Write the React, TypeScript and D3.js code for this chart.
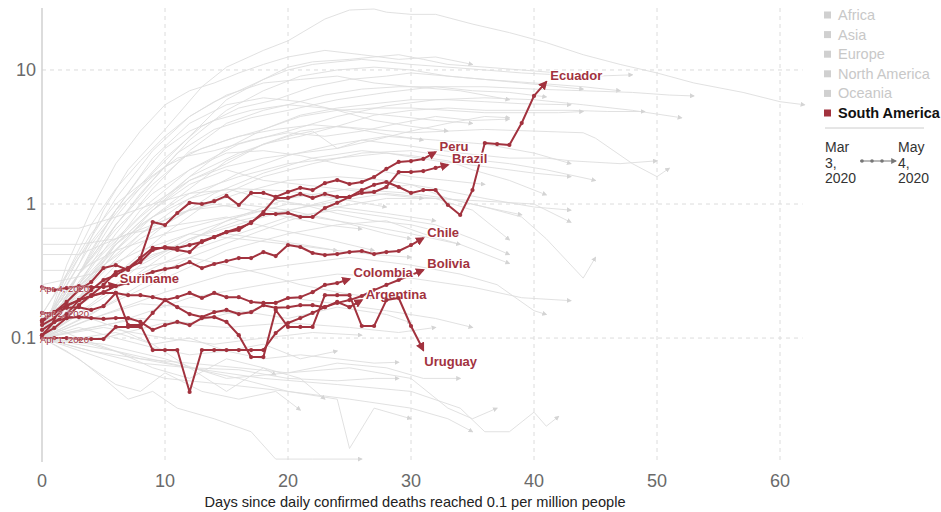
import React from "react";
import * as d3 from "d3";

const WIDTH = 941;
const HEIGHT = 512;
const RED = "#a2323e";
const FONT = "'Liberation Sans', Arial, Helvetica, sans-serif";

// South America: daily deaths per million, one value per day since reaching 0.1
const ecuador = [0.115, 0.132, 0.151, 0.192, 0.228, 0.271, 0.295, 0.333, 0.369, 0.454, 0.478, 0.47, 0.494, 0.52, 0.567, 0.618, 0.64, 0.734, 0.842, 0.842, 0.857, 0.8, 0.8, 0.934, 1.02, 1.13, 1.27, 1.39, 1.46, 1.34, 1.21, 1.27, 1.27, 0.983, 0.828, 1.27, 2.85, 2.8, 2.76, 4.02, 6.4, 8.14];
const peru = [0.132, 0.156, 0.186, 0.228, 0.262, 0.333, 0.35, 0.322, 0.395, 0.734, 0.697, 0.857, 1.02, 1.0, 1.05, 1.15, 0.983, 1.21, 1.21, 1.13, 1.23, 1.32, 1.27, 1.43, 1.51, 1.41, 1.46, 1.59, 1.83, 2.06, 2.09, 2.17, 2.44];
const brazil = [0.105, 0.119, 0.141, 0.176, 0.209, 0.249, 0.311, 0.333, 0.395, 0.47, 0.47, 0.454, 0.438, 0.53, 0.567, 0.618, 0.662, 0.721, 0.872, 1.11, 1.11, 1.19, 1.11, 1.19, 1.13, 1.13, 1.21, 1.23, 1.34, 1.73, 1.73, 1.76, 1.86, 1.96];
const chile = [0.125, 0.141, 0.173, 0.192, 0.206, 0.22, 0.244, 0.257, 0.29, 0.311, 0.327, 0.339, 0.369, 0.333, 0.357, 0.375, 0.395, 0.395, 0.438, 0.409, 0.494, 0.478, 0.431, 0.416, 0.423, 0.438, 0.446, 0.423, 0.438, 0.446, 0.494, 0.557];
const bolivia = [0.136, 0.156, 0.176, 0.192, 0.206, 0.217, 0.217, 0.125, 0.125, 0.0814, 0.0814, 0.0814, 0.0396, 0.0814, 0.0814, 0.0814, 0.0814, 0.0814, 0.0814, 0.109, 0.1295, 0.141, 0.154, 0.17, 0.183, 0.192, 0.206, 0.228, 0.249, 0.271, 0.295, 0.322];
const colombia = [0.154, 0.154, 0.168, 0.17, 0.162, 0.173, 0.217, 0.209, 0.209, 0.202, 0.192, 0.202, 0.217, 0.199, 0.217, 0.202, 0.202, 0.186, 0.183, 0.183, 0.199, 0.202, 0.22, 0.249, 0.257, 0.276];
const argentina = [0.1, 0.1, 0.1, 0.0983, 0.0983, 0.0983, 0.121, 0.121, 0.121, 0.154, 0.192, 0.17, 0.151, 0.1435, 0.156, 0.162, 0.151, 0.156, 0.176, 0.168, 0.17, 0.176, 0.176, 0.17, 0.186, 0.17, 0.192];
const uruguay = [0.105, 0.132, 0.141, 0.1435, 0.141, 0.139, 0.141, 0.141, 0.132, 0.115, 0.125, 0.132, 0.125, 0.141, 0.1435, 0.132, 0.105, 0.0721, 0.0721, 0.162, 0.121, 0.121, 0.121, 0.209, 0.209, 0.209, 0.123, 0.123, 0.192, 0.199, 0.123, 0.0814];
const suriname = [0.24, 0.228, 0.236, 0.244, 0.24, 0.24, 0.249];

const saNames = ["Ecuador", "Peru", "Brazil", "Chile", "Bolivia", "Colombia", "Argentina", "Uruguay", "Suriname"];
const saValues = [ecuador, peru, brazil, chile, bolivia, colombia, argentina, uruguay, suriname];
const startDates: Record<string, string> = {
  Suriname: "Apr 4, 2020",
  Colombia: "Apr 2, 2020",
  Argentina: "Apr 1, 2020",
};

// other continents, [day, value] points
const otherCountries: [number, number][][] = [
  [[0, 0.12], [3, 0.35], [5, 0.9], [7, 1.8], [10, 3.6], [13, 7.5], [15, 10.5], [18, 14], [20, 16.5], [23, 24], [25, 28], [27, 28.5], [28, 27], [30, 26], [32, 26], [35, 22], [38, 19], [41, 16], [44, 13], [47, 11], [50, 9.5], [53, 8], [57, 6.8], [60, 5.8], [62, 5.5]],
  [[0, 0.1], [3, 0.3], [6, 0.8], [9, 1.7], [12, 3.2], [15, 6], [18, 8.5], [20, 10.5], [22, 11.5], [25, 12], [27, 12.5], [29, 13], [31, 12], [33, 11], [36, 10.5], [39, 10], [42, 9.5], [45, 9], [48, 9.2]],
  [[0, 0.11], [2, 0.25], [4, 0.5], [7, 1.1], [10, 2.2], [13, 3.8], [16, 5.2], [19, 6], [22, 7.5], [25, 8.5], [28, 9], [30, 9.5], [33, 9], [36, 8.5], [40, 8], [44, 7.5], [47, 7]],
  [[0, 0.1], [3, 0.25], [6, 0.6], [9, 1.3], [12, 2.5], [15, 4], [18, 5], [20, 5.5], [23, 6.5], [26, 7.2], [29, 7.5], [32, 7.5], [35, 7], [38, 6.8], [41, 6.3]],
  [[0, 0.13], [4, 0.4], [8, 1.2], [11, 2.4], [14, 3.6], [17, 4.4], [20, 5], [24, 6], [28, 6.8], [32, 7.5], [36, 7.5], [40, 7.2], [44, 7], [48, 6.8], [51, 6.5], [53, 6.4]],
  [[0, 0.12], [3, 0.3], [6, 0.7], [9, 1.4], [12, 2.4], [15, 3], [18, 3.6], [21, 4.6], [24, 5.2], [27, 5.6], [30, 6], [33, 6], [36, 5.8], [39, 5.6], [43, 5.5]],
  [[0, 0.1], [4, 0.3], [8, 0.9], [12, 1.8], [16, 2.8], [20, 3.5], [24, 4.5], [28, 5.4], [32, 6], [36, 6.2], [40, 6], [44, 5.5], [48, 5], [52, 4.4]],
  [[0, 0.1], [3, 0.2], [6, 0.5], [9, 0.9], [12, 1.5], [15, 2], [18, 2.8], [21, 3.2], [24, 3.8], [27, 4.6], [30, 5], [33, 5.2], [36, 5], [39, 5], [43, 5], [46, 4.9], [49, 4.9]],
  [[0, 0.15], [3, 0.4], [6, 0.9], [9, 1.6], [11, 2.2], [14, 2.5], [17, 3], [20, 3.4], [23, 3.2], [26, 3.5], [29, 4], [32, 4.5], [35, 4.2], [38, 4.3]],
  [[0, 0.1], [3, 0.2], [6, 0.45], [9, 0.8], [12, 1.3], [15, 2.1], [18, 2.8], [21, 3.5], [24, 3.8], [27, 3.6], [30, 3.4], [33, 3.5], [36, 3.6], [40, 3.5], [44, 3.4], [45, 3.1], [48, 2], [50, 1.6], [51, 1.85]],
  [[0, 0.1], [4, 0.25], [8, 0.6], [12, 1.1], [16, 1.7], [20, 2.3], [24, 2.8], [28, 3.2], [32, 3], [36, 2.8], [40, 2.4], [43, 2]],
  [[0, 0.12], [4, 0.3], [8, 0.7], [12, 1.2], [16, 1.6], [20, 2], [24, 2.2], [28, 2.4], [32, 2.1], [36, 1.9], [40, 1.7], [43, 1.6]],
  [[0, 0.1], [5, 0.25], [10, 0.6], [14, 1.1], [18, 1.6], [22, 2], [26, 2.4], [30, 2.5], [34, 2.2], [38, 2], [41, 1.8], [45, 1.5]],
  [[0, 0.11], [4, 0.35], [8, 0.8], [12, 1.6], [16, 2.4], [20, 3.2], [22, 3.5], [24, 2.6], [26, 3], [30, 2.7], [34, 2.4], [38, 2.2], [41, 2.2], [43, 2.1], [47, 2], [50, 2.1]],
  [[0, 0.1], [3, 0.18], [6, 0.35], [10, 0.7], [14, 1.2], [18, 1.7], [22, 2.2], [26, 2.5], [30, 2.3], [33, 2.1], [35, 1.8], [38, 1.5], [41, 1.17]],
  [[0, 0.13], [4, 0.3], [8, 0.55], [12, 0.9], [16, 1.2], [20, 1.5], [24, 1.6], [28, 1.5], [32, 1.3], [36, 1.1], [40, 0.95], [43, 0.9]],
  [[0, 0.1], [5, 0.2], [10, 0.42], [15, 0.75], [20, 1.1], [25, 1.3], [30, 1.2], [33, 1.1], [36, 0.95], [39, 0.83]],
  [[0, 0.1], [4, 0.18], [8, 0.35], [12, 0.55], [16, 0.75], [20, 0.9], [24, 1.05], [28, 1.2], [32, 1.1], [35, 0.9], [38, 0.54]],
  [[0, 0.12], [4, 0.2], [8, 0.3], [12, 0.45], [16, 0.6], [20, 0.8], [24, 0.9], [28, 0.8], [32, 0.7], [35, 0.55], [38, 0.42]],
  [[0, 0.1], [5, 0.17], [10, 0.28], [15, 0.45], [20, 0.6], [24, 0.7], [28, 0.75], [31, 0.6], [34, 0.5], [38, 0.36]],
  [[0, 0.1], [4, 0.15], [8, 0.25], [12, 0.4], [16, 0.55], [20, 0.75], [24, 0.95], [28, 1.1], [32, 1.1], [36, 1.05], [40, 1], [43, 0.73]],
  [[0, 0.14], [6, 0.3], [12, 0.55], [18, 0.8], [24, 1.1], [28, 1.3], [30, 1.4], [33, 1.1], [36, 0.95], [39, 0.8], [41, 0.55], [44, 0.28], [45, 0.4]],
  [[0, 0.1], [5, 0.15], [10, 0.22], [15, 0.3], [20, 0.35], [25, 0.4], [30, 0.35], [34, 0.3], [37, 0.25], [40, 0.16], [41, 0.15]],
  [[0, 0.1], [6, 0.13], [12, 0.2], [18, 0.25], [24, 0.3], [30, 0.28], [35, 0.24], [39, 0.2], [43, 0.19]],
  [[0, 0.1], [3, 0.1], [6, 0.08], [9, 0.06], [12, 0.05], [15, 0.07], [18, 0.06], [19, 0.053]],
  [[0, 0.1], [2, 0.08], [4, 0.06], [6, 0.045], [8, 0.04], [10, 0.055], [13, 0.04], [16, 0.035], [19, 0.04], [21, 0.029]],
  [[0, 0.1], [3, 0.07], [5, 0.05], [7, 0.035], [9, 0.04], [11, 0.03], [14, 0.025], [17, 0.02], [19, 0.0125], [22, 0.0125], [26, 0.0125]],
  [[0, 0.1], [4, 0.09], [8, 0.07], [12, 0.06], [16, 0.05], [20, 0.04], [24, 0.035], [25, 0.015], [27, 0.03], [30, 0.025]],
  [[0, 0.1], [3, 0.12], [6, 0.1], [9, 0.085], [12, 0.075], [15, 0.08], [18, 0.07], [21, 0.075], [24, 0.07], [27, 0.065], [29, 0.066]],
  [[0, 0.1], [4, 0.08], [8, 0.065], [12, 0.06], [16, 0.058], [20, 0.05], [24, 0.048], [27, 0.05], [29, 0.05]],
  [[0, 0.1], [5, 0.12], [10, 0.1], [14, 0.09], [18, 0.1], [22, 0.11], [26, 0.105]],
  [[0, 0.1], [5, 0.1], [10, 0.13], [15, 0.12], [20, 0.13], [25, 0.12], [29, 0.11], [32, 0.12]],
  [[0, 0.1], [4, 0.08], [8, 0.07], [12, 0.065], [16, 0.06], [20, 0.055], [24, 0.065], [28, 0.06], [31, 0.05], [34, 0.05]],
  [[0, 0.1], [5, 0.07], [10, 0.05], [15, 0.045], [20, 0.04], [25, 0.035], [30, 0.03], [33, 0.025], [35, 0.02]],
  [[0, 0.1], [5, 0.09], [10, 0.07], [15, 0.05], [20, 0.055], [25, 0.06], [30, 0.05], [33, 0.03], [35, 0.025], [37, 0.03]],
  [[0, 0.1], [6, 0.08], [12, 0.06], [18, 0.05], [24, 0.045], [30, 0.04], [34, 0.03], [36, 0.02], [38, 0.02], [40, 0.028], [41, 0.022], [42, 0.026]],
  [[0, 0.1], [3, 0.15], [6, 0.12], [9, 0.09], [12, 0.1], [15, 0.08], [18, 0.09], [21, 0.07], [24, 0.08]],
  [[0, 0.13], [3, 0.1], [6, 0.11], [9, 0.09], [12, 0.06], [15, 0.04], [18, 0.06], [21, 0.05], [23, 0.035]],
  [[0, 0.1], [4, 0.14], [8, 0.18], [12, 0.17], [16, 0.15], [20, 0.2], [24, 0.18], [28, 0.16], [32, 0.14], [35, 0.12]],
  [[0, 0.1], [4, 0.12], [8, 0.14], [12, 0.13], [16, 0.16], [20, 0.14], [24, 0.17], [28, 0.15], [30, 0.13]],
  [[0, 0.66], [3, 0.66], [6, 0.8], [9, 1], [12, 1.2], [16, 1.3], [20, 1.25], [24, 1.1], [28, 0.95]],
  [[0, 0.5], [3, 0.5], [6, 0.55], [9, 0.7], [12, 0.9], [16, 1], [20, 0.9], [24, 0.75], [28, 0.6], [30, 0.55]],
  [[0, 0.42], [3, 0.42], [7, 0.6], [11, 0.7], [15, 0.8], [19, 0.65], [23, 0.55], [27, 0.45]],
  [[0, 0.32], [3, 0.32], [6, 0.45], [10, 0.6], [14, 0.75], [18, 0.9], [22, 0.8], [26, 0.7], [30, 0.6], [34, 0.5]],
  [[0, 0.25], [4, 0.3], [8, 0.45], [12, 0.6], [16, 0.55], [20, 0.5], [24, 0.45]],
  [[0, 0.1], [2, 0.2], [4, 0.45], [6, 0.9], [8, 1.6], [10, 2.6], [12, 3.5], [14, 4.2], [17, 5], [20, 5.5], [23, 5.2], [26, 4.8], [29, 4.5], [32, 4.2], [35, 4]],
  [[0, 0.12], [3, 0.3], [6, 0.65], [9, 1.2], [12, 1.8], [15, 2.4], [18, 2.5], [21, 2.3], [24, 2], [27, 1.8], [30, 1.6], [33, 1.5], [36, 1.4]],
  [[0, 0.1], [3, 0.22], [6, 0.5], [9, 0.9], [12, 1.4], [15, 1.8], [18, 1.5], [21, 1.4], [24, 1.3], [27, 1.2], [31, 1.1]],
  [[0, 0.14], [3, 0.25], [6, 0.5], [9, 0.8], [12, 1.1], [15, 1.3], [18, 1.1], [21, 1], [24, 0.85], [27, 0.75], [30, 0.7], [33, 0.6]],
  [[0, 0.1], [4, 0.22], [8, 0.4], [12, 0.6], [16, 0.8], [20, 1], [24, 0.95], [28, 0.85], [32, 0.75]],
  [[0, 0.11], [2, 0.18], [5, 0.35], [8, 0.6], [11, 0.85], [14, 1], [17, 0.9], [20, 0.8], [23, 0.7], [26, 0.65]],
  [[0, 0.1], [3, 0.2], [6, 0.3], [9, 0.42], [12, 0.5], [15, 0.6], [18, 0.55], [21, 0.5], [24, 0.45], [27, 0.42], [30, 0.4]],
  [[0, 0.13], [3, 0.2], [6, 0.3], [9, 0.35], [12, 0.4], [15, 0.35], [18, 0.3], [21, 0.25], [24, 0.22], [27, 0.2]],
  [[0, 0.1], [2, 0.3], [4, 0.7], [6, 1.3], [8, 2.1], [10, 3.2], [12, 4.5], [14, 5.8], [16, 7], [18, 8.5], [20, 10], [22, 11], [24, 11.5], [26, 12], [28, 11.5], [30, 11], [33, 10.5], [36, 10], [39, 9.5], [42, 9.2], [45, 8.8]],
  [[0, 0.1], [3, 0.25], [6, 0.7], [9, 1.5], [12, 3], [15, 5], [18, 7], [21, 9], [24, 10], [27, 10.5], [30, 10], [33, 9], [36, 8.5], [39, 8], [42, 7.5], [44, 7.2]],
  [[0, 0.1], [3, 0.2], [6, 0.45], [9, 0.9], [12, 1.6], [15, 2.6], [18, 3.6], [21, 4.5], [24, 5], [27, 5.2], [30, 5.2], [33, 5], [36, 4.8], [39, 4.8], [42, 4.8], [44, 4.9]],
  [[0, 0.12], [3, 0.3], [6, 0.55], [9, 1], [12, 1.5], [15, 1.9], [18, 2.2], [21, 2.4], [24, 2.6], [27, 3], [30, 3.5], [33, 4], [36, 4.5], [38, 4.4]],
  [[0, 0.1], [2, 0.35], [4, 0.9], [6, 2], [8, 3.5], [10, 5.5], [12, 7], [14, 8], [16, 9.5], [18, 11], [20, 12.5], [23, 14], [26, 13], [29, 12], [32, 12.5], [35, 11]],
  [[0, 0.12], [3, 0.4], [6, 1.1], [9, 2.5], [12, 4.5], [15, 6.5], [18, 8], [21, 8.5], [24, 9], [27, 8], [30, 7.5], [34, 7], [38, 6]],
  [[0, 0.1], [3, 0.3], [6, 0.9], [9, 2.2], [12, 4], [15, 5.5], [18, 6.2], [21, 5.8], [24, 5], [27, 4.2], [30, 3.8], [33, 3.5]],
  [[0, 0.15], [2, 0.3], [4, 0.6], [6, 1], [8, 1.4], [10, 1.9], [13, 2.6], [16, 3.2], [19, 3.6], [22, 3.9], [25, 3.7], [28, 3.3], [31, 3]],
];

const xTicks = [0, 10, 20, 30, 40, 50, 60];
const yTicks = [0.1, 1, 10];
const yTickLabels = ["0.1", "1", "10"];
const continents = ["Africa", "Asia", "Europe", "North America", "Oceania", "South America"];
const activeContinent = "South America";
const dateRange = [["Mar", "3,", "2020"], ["May", "4,", "2020"]];
const xTitle = "Days since daily confirmed deaths reached 0.1 per million people";

export default function App() {
  const x = d3.scaleLinear().domain([0, 62]).range([42, 804.6]);
  const y = d3.scaleLog().domain([0.0121, 29]).range([461, 8]);
  const [yTop, yBottom] = [y.range()[1], y.range()[0]];

  const pairLine = d3
    .line<[number, number]>()
    .x((d) => x(d[0]))
    .y((d) => y(d[1]));
  const dayLine = d3
    .line<number>()
    .x((_, i) => x(i))
    .y((d) => y(d));

  return (
    <div style={{ position: "absolute", left: 0, top: 0 }}>
      <svg width={WIDTH} height={HEIGHT} style={{ display: "block", fontFamily: FONT }}>
        <defs>
          <marker id="arrowRed" viewBox="0 0 10 10" refX="8" refY="5" markerWidth="9" markerHeight="9" markerUnits="userSpaceOnUse" orient="auto">
            <path d="M0,0L10,5L0,10z" fill={RED} />
          </marker>
          <marker id="arrowGray" viewBox="0 0 10 10" refX="8" refY="5" markerWidth="5" markerHeight="5" markerUnits="userSpaceOnUse" orient="auto">
            <path d="M0,0L10,5L0,10z" fill="#d4d4d4" />
          </marker>
          <marker id="arrowLegend" viewBox="0 0 10 10" refX="8" refY="5" markerWidth="6" markerHeight="6" markerUnits="userSpaceOnUse" orient="auto">
            <path d="M0,0L10,5L0,10z" fill="#777" />
          </marker>
        </defs>

        {/* grid */}
        <g stroke="#dcdcdc" strokeDasharray="4,4" strokeWidth={1}>
          {xTicks.filter((t) => t > 0).map((t) => (
            <line key={"gx" + t} x1={x(t)} x2={x(t)} y1={yTop} y2={yBottom + 1} />
          ))}
          {yTicks.map((t) => (
            <line key={"gy" + t} x1={x(0)} x2={x(62) - 2} y1={y(t)} y2={y(t)} />
          ))}
        </g>
        <line x1={x(0)} x2={x(0)} y1={yTop} y2={yBottom + 1} stroke="#d0d0d0" strokeWidth={1.5} />

        {/* tick labels */}
        <g fill="#6a6a6a" fontSize={18}>
          {yTicks.map((t, i) => (
            <text key={"ty" + t} x={36} y={y(t)} textAnchor="end" dominantBaseline="central">
              {yTickLabels[i]}
            </text>
          ))}
          {xTicks.map((t) => (
            <text key={"tx" + t} x={x(t)} y={481} textAnchor="middle" dominantBaseline="central">
              {t}
            </text>
          ))}
        </g>
        <text x={415} y={507} textAnchor="middle" fontSize={14.6} fill="#222">
          {xTitle}
        </text>

        {/* other continents */}
        <g fill="none" stroke="#dedede" strokeWidth={0.9}>
          {otherCountries.map((pts, i) => (
            <path key={"o" + i} d={pairLine(pts) || ""} markerEnd="url(#arrowGray)" />
          ))}
        </g>

        {/* South America */}
        {saValues.map((vals, i) => {
          const name = saNames[i];
          const n = vals.length - 1;
          const ex = x(n);
          const ey = y(vals[n]);
          const down = vals[n] < vals[n - 1];
          const start = startDates[name];
          return (
            <g key={name}>
              <path d={dayLine(vals) || ""} fill="none" stroke={RED} strokeWidth={2} strokeLinejoin="round" markerEnd="url(#arrowRed)" />
              {vals.slice(0, n).map((v, j) => (
                <circle key={j} cx={x(j)} cy={y(v)} r={2.1} fill={RED} />
              ))}
              <text
                x={ex + (down ? 1 : 4)}
                y={ey + (down ? 11 : -6)}
                fill={RED}
                fontSize={13}
                fontWeight="bold"
                dominantBaseline="central"
                stroke="#fff"
                strokeWidth={2.5}
                paintOrder="stroke"
              >
                {name}
              </text>
              {start && (
                <text x={x(0) - 2} y={y(vals[0]) + 1} fill={RED} fontSize={9.5} dominantBaseline="central" stroke="#fff" strokeWidth={1.2} strokeOpacity={0.5} paintOrder="stroke">
                  {start}
                </text>
              )}
            </g>
          );
        })}

        {/* legend */}
        <g fontSize={14.5}>
          {continents.map((c, i) => {
            const active = c === activeContinent;
            const cy = 15 + i * 19.6;
            return (
              <g key={c}>
                <rect x={824} y={cy - 3.5} width={7} height={7} fill={active ? RED : "#d0d0d0"} />
                <text x={838} y={cy} dominantBaseline="central" fill={active ? "#111" : "#c8c8c8"} fontWeight={active ? "bold" : "normal"}>
                  {c}
                </text>
              </g>
            );
          })}
          <line x1={825} x2={924} y1={128} y2={128} stroke="#ccc" />
          {dateRange.map((lines, k) => (
            <text key={"d" + k} x={k === 0 ? 825 : 898} y={147} fontSize={14} fill="#333" dominantBaseline="central">
              {lines.map((l, j) => (
                <tspan key={j} x={k === 0 ? 825 : 898} y={147 + j * 15.5}>
                  {l}
                </tspan>
              ))}
            </text>
          ))}
          <line x1={860} x2={896} y1={161} y2={161} stroke="#777" strokeWidth={1.2} markerEnd="url(#arrowLegend)" />
          {[862, 872, 882].map((cx) => (
            <circle key={cx} cx={cx} cy={161} r={1.8} fill="#777" />
          ))}
        </g>
      </svg>
    </div>
  );
}
